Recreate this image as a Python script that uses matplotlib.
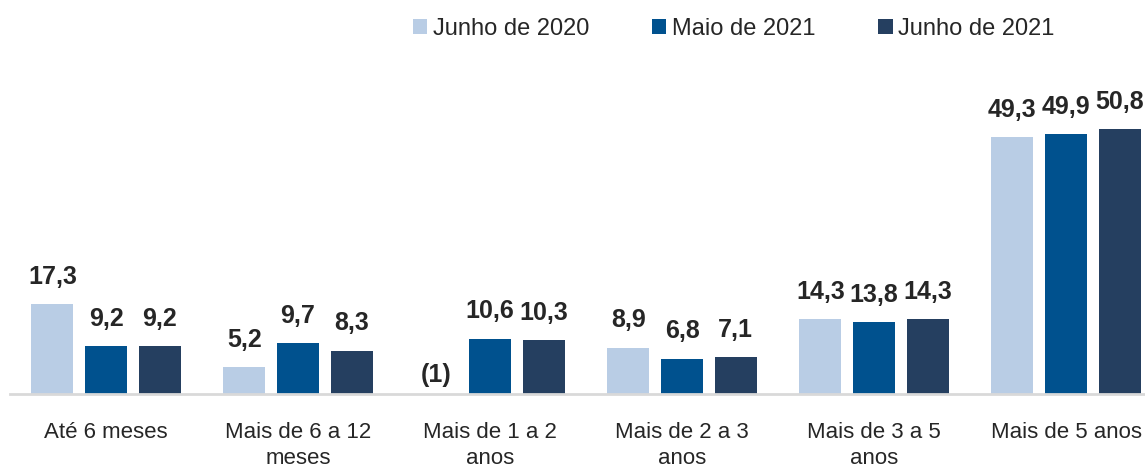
import matplotlib
matplotlib.use("Agg")
import matplotlib.pyplot as plt
import numpy as np

categories = ["Até 6 meses", "Mais de 6 a 12\nmeses", "Mais de 1 a 2\nanos",
              "Mais de 2 a 3\nanos", "Mais de 3 a 5\nanos", "Mais de 5 anos"]
series_names = ["Junho de 2020", "Maio de 2021", "Junho de 2021"]
jun2020 = [17.3, 5.2, None, 8.9, 14.3, 49.3]
mai2021 = [9.2, 9.7, 10.6, 6.8, 13.8, 49.9]
jun2021 = [9.2, 8.3, 10.3, 7.1, 14.3, 50.8]
missing_label = "(1)"
colors = ["#B9CDE5", "#00518E", "#253F60"]

plt.rcParams['font.family'] = ["Liberation Sans", "DejaVu Sans"]

fig = plt.figure(figsize=(11.45, 4.74), dpi=100)
ax = fig.add_axes([10/1145, 80/474, (1145-10)/1145, 0.605])

x = np.arange(len(categories))
w = 0.219
pitch = 0.279
series = [jun2020, mai2021, jun2021]
for i, (vals, col, nm) in enumerate(zip(series, colors, series_names)):
    h = [v if v is not None else 0 for v in vals]
    xs = x + (i - 1) * pitch
    ax.bar(xs, h, width=w, color=col, label=nm)
    for xi, v in zip(xs, vals):
        if v is not None:
            txt = f"{v:.1f}".replace(".", ",")
            off = 11
        else:
            txt = missing_label
            off = 5
        hv = v if v is not None else 0
        ax.annotate(txt, (xi, hv), xytext=(0, off), textcoords="offset points",
                    ha="center", va="bottom", fontsize=18, fontweight="bold",
                    color="#262626")

ax.set_xlim(-0.5, (1145 - 106) / 192)
ax.set_ylim(0, 55)
ax.set_xticks(x)
ax.set_xticklabels(categories, fontsize=16, color="#262626", linespacing=1.35)
ax.tick_params(axis="x", length=0, pad=20)
ax.set_yticks([])
for s in ["top", "right", "left"]:
    ax.spines[s].set_visible(False)
ax.spines["bottom"].set_color("#D9D9D9")
ax.spines["bottom"].set_linewidth(2)

fig.legend(loc="center", bbox_to_anchor=(734/1145, 1 - 29/474), ncol=3, frameon=False,
           fontsize=17, handlelength=0.6, handleheight=0.6, handletextpad=0.25,
           columnspacing=2.65, labelcolor="#262626")

fig.savefig("out.png", dpi=100)
